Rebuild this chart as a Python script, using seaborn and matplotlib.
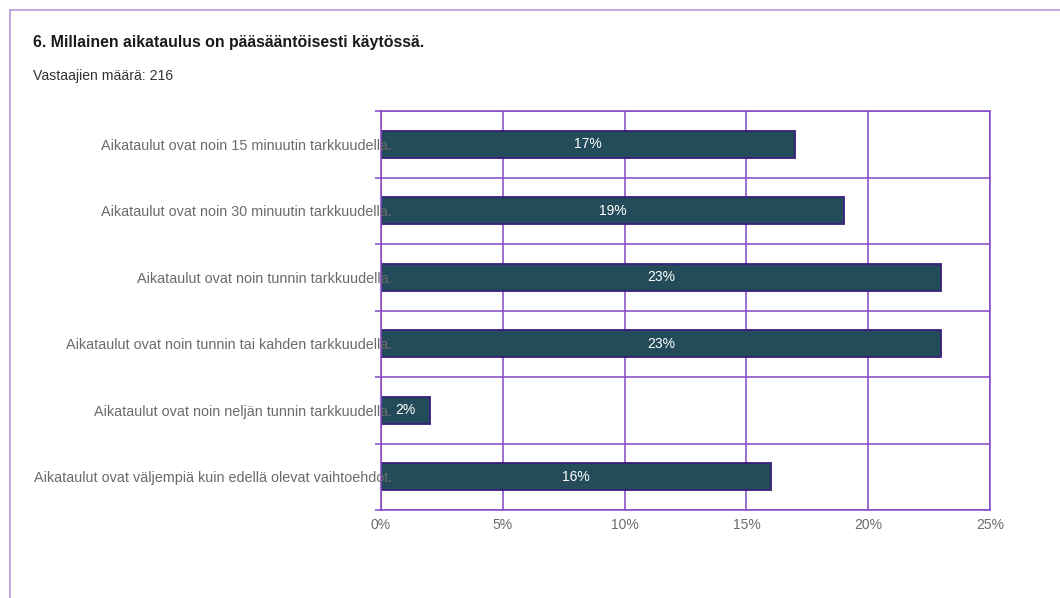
import matplotlib
matplotlib.use("Agg")
import matplotlib.pyplot as plt
from matplotlib.lines import Line2D
from matplotlib.ticker import FixedLocator, PercentFormatter
import seaborn as sns
import pandas as pd

categories = [
    "Aikataulut ovat noin 15 minuutin tarkkuudella.",
    "Aikataulut ovat noin 30 minuutin tarkkuudella.",
    "Aikataulut ovat noin tunnin tarkkuudella.",
    "Aikataulut ovat noin tunnin tai kahden tarkkuudella.",
    "Aikataulut ovat noin neljän tunnin tarkkuudella.",
    "Aikataulut ovat väljempiä kuin edellä olevat vaihtoehdot.",
]
percentages = [17, 19, 23, 23, 2, 16]
x_ticks = [0, 5, 10, 15, 20, 25]

title = "6. Millainen aikataulus on pääsääntöisesti käytössä."
subtitle = "Vastaajien määrä: 216"

df = pd.DataFrame({"vaihtoehto": categories, "osuus": percentages})

sns.set_theme(style="white")
plt.rcParams["font.family"] = ["Liberation Sans", "DejaVu Sans"]

bar_color = "#244b59"
bar_edge = "#3b1f7c"
grid_color = "#8346c4"
text_gray = "#6b6b6b"
frame_color = "#b59bd8"

fig = plt.figure(figsize=(10.6, 5.98), dpi=100)
fig.patch.set_facecolor("white")
ax = fig.add_axes([381 / 1060, 88 / 598, 609 / 1060, 399 / 598])

sns.barplot(data=df, x="osuus", y="vaihtoehto", orient="h", color=bar_color,
            saturation=1, width=0.41, edgecolor=bar_edge, linewidth=1.3, ax=ax)

ax.set_xlim(0, 25)
ax.set_ylim(len(categories) - 0.5, -0.5)
ax.set_xticks(x_ticks)
ax.xaxis.set_major_formatter(PercentFormatter(decimals=0))
ax.set_xlabel("")
ax.set_ylabel("")
ax.grid(False)
# axis artists (tick labels) above the bars; grid lines are added below them
ax.set_axisbelow(False)

boundaries = [i - 0.5 for i in range(len(categories) + 1)]
for xv in x_ticks:
    ax.axvline(xv, color=grid_color, linewidth=1.1, zorder=0.5)
for yv in boundaries:
    ax.axhline(yv, color=grid_color, linewidth=1.1, zorder=0.5)

ax.yaxis.set_minor_locator(FixedLocator(boundaries))
ax.tick_params(axis="y", which="major", length=0, pad=-8, labelsize=10.4, labelcolor=text_gray)
ax.tick_params(axis="y", which="minor", left=True, length=4, width=1.1, color=grid_color)
ax.tick_params(axis="x", which="major", length=0, pad=6, labelsize=10, labelcolor=text_gray)

for side in ax.spines.values():
    side.set_color(grid_color)
    side.set_linewidth(1.1)

for container in ax.containers:
    ax.bar_label(container, labels=[f"{v:g}%" for v in container.datavalues],
                 label_type="center", color="white", fontsize=10)

fig.text(33 / 1060, 1 - 43 / 598, title, fontsize=11.4, fontweight="bold",
         color="#1a1a1a", va="center", ha="left")
fig.text(33 / 1060, 1 - 76 / 598, subtitle, fontsize=10.1, color="#333333",
         va="center", ha="left")

# outer panel border, left and top edges
fig.add_artist(Line2D([10 / 1060, 10 / 1060], [0, 1 - 10 / 598],
                      transform=fig.transFigure, color=frame_color, linewidth=1.2))
fig.add_artist(Line2D([10 / 1060, 1], [1 - 10 / 598, 1 - 10 / 598],
                      transform=fig.transFigure, color=frame_color, linewidth=1.2))

fig.savefig("out.png", dpi=100, facecolor="white")
